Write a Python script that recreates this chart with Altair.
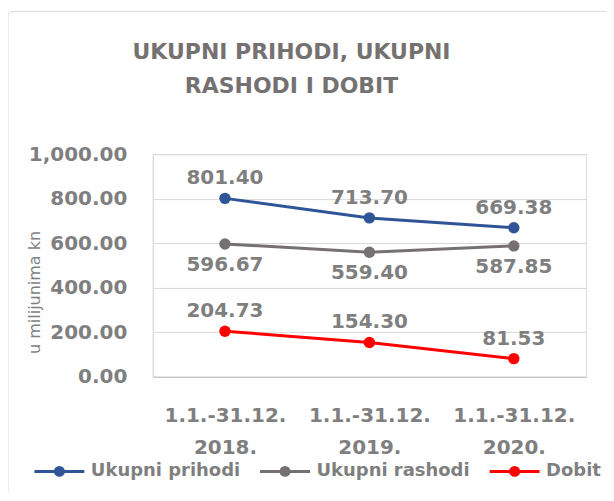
import altair as alt
import pandas as pd

periods = ["1.1.-31.12. 2018.", "1.1.-31.12. 2019.", "1.1.-31.12. 2020."]
series_names = ["Ukupni prihodi", "Ukupni rashodi", "Dobit"]
prihodi = [801.40, 713.70, 669.38]
rashodi = [596.67, 559.40, 587.85]
dobit = [204.73, 154.30, 81.53]
y_ticks = [0, 200, 400, 600, 800, 1000]
colors = ["#2f5597", "#767171", "#ff0000"]
title_lines = ["UKUPNI PRIHODI, UKUPNI", "RASHODI I DOBIT"]
y_title = "u milijunima kn"

rows = []
for name, vals in zip(series_names, [prihodi, rashodi, dobit]):
    for p, v in zip(periods, vals):
        rows.append({"period": p, "series": name, "value": v})
df = pd.DataFrame(rows)

FONT = "DejaVu Sans"
GRAY = "#7f7f7f"
W, H = 434, 223

x_enc = alt.X(
    "period:N", sort=periods,
    scale=alt.Scale(type="point", padding=0.5),
    axis=alt.Axis(
        title=None, labelExpr="split(datum.label, ' ')", labelAngle=0,
        labelFont=FONT, labelFontSize=20, labelFontWeight="bold", labelColor=GRAY,
        labelLineHeight=32, labelPadding=29, ticks=False, domainColor="#bfbfbf",
        domainWidth=1, grid=False, labelBaseline="top",
    ),
)
y_enc = alt.Y(
    "value:Q", scale=alt.Scale(domain=[0, 1000], nice=False),
    axis=alt.Axis(
        values=y_ticks, format=",.2f", title=y_title,
        titleFont=FONT, titleFontSize=16, titleFontWeight="normal", titleColor=GRAY,
        titleAngle=270, titleX=-118, titleY=138, titleAlign="center", titleBaseline="middle",
        labelFont=FONT, labelFontSize=20, labelFontWeight="bold", labelColor=GRAY,
        labelPadding=26, ticks=False, domainColor="#d9d9d9", gridColor="#d9d9d9",
    ),
)

# line segment with a filled dot (built from concentric stroked rings)
rings = "".join(
    f"M-{r},0A{r},{r},0,1,1,{r},0A{r},{r},0,1,1,-{r},0Z" for r in ["0.04", "0.08", "0.12", "0.16"]
)
legend_symbol = "M-1,0L1,0" + rings
color_legend = alt.Color(
    "series:N", sort=series_names,
    scale=alt.Scale(domain=series_names, range=colors),
    legend=alt.Legend(
        title=None, orient="none", legendX=-120, legendY=291, direction="horizontal",
        symbolType=legend_symbol, symbolSize=2500, symbolStrokeWidth=3, symbolOpacity=1,
        labelFont=FONT, labelFontSize=18, labelFontWeight="bold", labelColor=GRAY,
        labelOffset=5, columnPadding=13,
    ),
)
color_nolegend = alt.Color(
    "series:N", sort=series_names,
    scale=alt.Scale(domain=series_names, range=colors), legend=None,
)

base = alt.Chart(df)
lines = base.mark_line(strokeWidth=3).encode(x=x_enc, y=y_enc, color=color_legend)
points = base.mark_point(filled=True, size=130, opacity=1).encode(x=x_enc, y=y_enc, color=color_nolegend)

label_layers = []
for name, dy in zip(series_names, [-20, 21, -20]):
    label_layers.append(
        base.transform_filter(alt.datum.series == name)
        .mark_text(font=FONT, fontSize=20, fontWeight="bold", color=GRAY, dy=dy, baseline="middle")
        .encode(x=x_enc, y=y_enc, text=alt.Text("value:Q", format=",.2f"))
    )

frame = alt.Chart(pd.DataFrame({"f": [0]})).mark_rect(
    fill="transparent", stroke="#d9d9d9", strokeWidth=1, cornerRadius=4
).encode(
    x=alt.value(-145), x2=alt.value(W + 40), y=alt.value(-143), y2=alt.value(H + 140)
)

chart = alt.layer(frame, lines, points, *label_layers).properties(
    width=W, height=H,
    title=alt.TitleParams(
        text=title_lines, font=FONT, fontSize=22, fontWeight="bold", color="#767171",
        lineHeight=34, anchor="middle", frame="group", dx=-78, offset=-87,
    ),
    autosize=alt.AutoSizeParams(type="none"),
    padding={"left": 145, "top": 146, "right": 20, "bottom": 115},
).configure_view(stroke=None).configure(background="white")

chart.save("out.html", embed_options={"renderer": "svg", "actions": False})
